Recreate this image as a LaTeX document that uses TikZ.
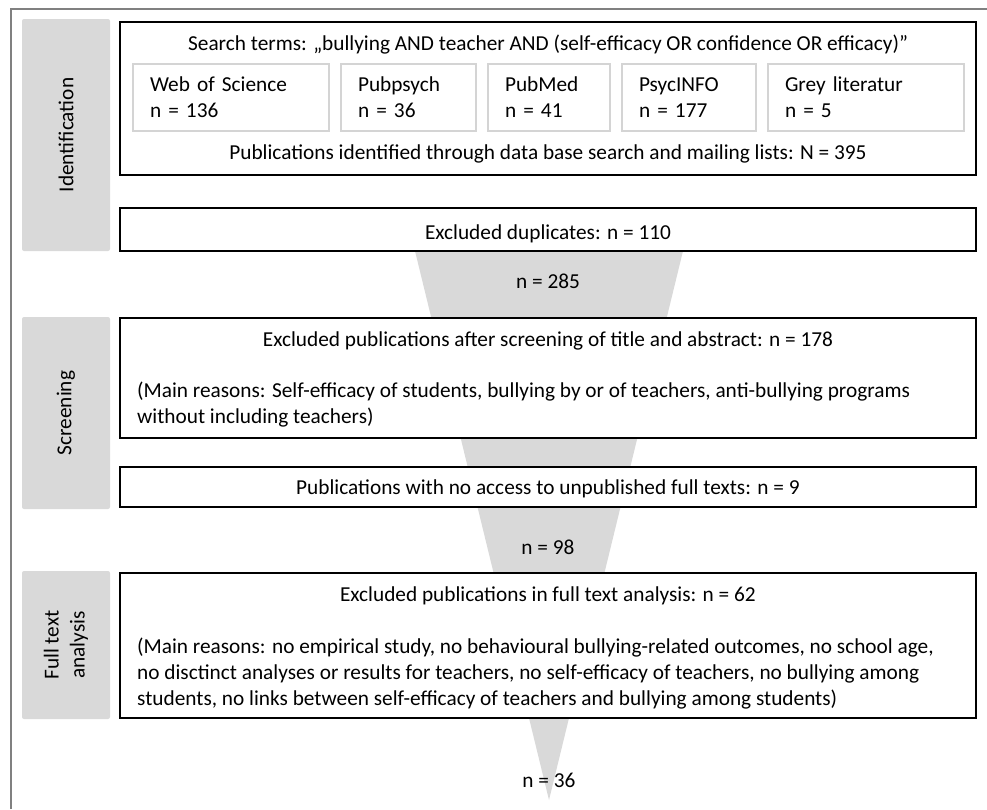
\documentclass[tikz,border=0pt]{standalone}
\usepackage{fontspec}
\setmainfont{Carlito}
\usetikzlibrary{positioning}
\definecolor{barfill}{HTML}{D9D9D9}
\definecolor{srcline}{HTML}{D4D4D4}
\definecolor{frameline}{HTML}{808080}

\begin{document}
\begin{tikzpicture}[
  x=1pt, y=-1pt,
  font=\fontsize{21.3}{26}\selectfont,
  stage/.style={rectangle, draw, line width=1.6pt, fill=white, minimum width=856pt, inner sep=0pt, outer sep=0pt},
  src/.style={rectangle, draw=srcline, line width=1.4pt, fill=white, minimum height=67pt, inner xsep=17pt, inner ysep=0pt, outer sep=0pt, align=left},
  phase/.style={rectangle, fill=barfill, rounded corners=2pt, rotate=90, minimum height=88pt, align=center},
  txt/.style={inner sep=0pt},
  node distance=12pt
]
\useasboundingbox (0,0) rectangle (987,809);
\draw[frameline, line width=1.5pt] (11,809) -- (11,9) -- (987,9);

% funnel behind the boxes
\fill[barfill] (415,251) -- (683,251) -- (549,800) -- cycle;

\node[phase, minimum width=232pt] (ph1) at (66,135) {Identification};
\node[phase, minimum width=192pt] (ph2) at (66,413) {Screening};
\node[phase, minimum width=148pt] (ph3) at (66,645) {Full text\\analysis};

\node[stage, minimum height=153pt] (ident) at (548,98.5) {};
\node[txt, anchor=base, yshift=-28pt] (terms) at (ident.north) {Search terms: „bullying AND teacher AND (self-efficacy OR confidence OR efficacy)”};
\node[src, text width=162pt, anchor=west] (wos) at (133,97.5) {Web of Science\\n = 136};
\node[src, text width=101pt, right=12pt of wos] (pubpsych) {Pubpsych\\n = 36};
\node[src, text width=88pt, right=12pt of pubpsych] (pubmed) {PubMed\\n = 41};
\node[src, text width=100pt, right=12pt of pubmed] (psycinfo) {PsycINFO\\n = 177};
\node[src, text width=162pt, right=12pt of psycinfo] (grey) {Grey literatur\\n = 5};
\node[txt, anchor=base, yshift=16pt] (total) at (ident.south) {Publications identified through data base search and mailing lists: N = 395};

\node[stage, minimum height=43pt, below=33pt of ident] (dup) {};
\node[txt, anchor=base, yshift=-31pt] (duptext) at (dup.north) {Excluded duplicates: n = 110};
\node[txt, anchor=base] (n285) at (548,288) {n = 285};

\node[stage, minimum height=120pt, below=67pt of dup] (screen) {};
\node[txt, anchor=base, yshift=-28pt] (screenhead) at (screen.north) {Excluded publications after screening of title and abstract: n = 178};
% base of a multi-line node is its last line
\node[txt, anchor=base west, align=left, xshift=17pt, yshift=-105pt] (screenwhy) at (screen.north west) {(Main reasons: Self-efficacy of students, bullying by or of teachers, anti-bullying programs\\without including teachers)};

\node[stage, minimum height=40pt, below=29pt of screen] (noaccess) {};
\node[txt, anchor=base, yshift=-27pt] (noaccesstext) at (noaccess.north) {Publications with no access to unpublished full texts: n = 9};
\node[txt, anchor=base] (n98) at (548,554) {n = 98};

\node[stage, minimum height=145pt, below=66pt of noaccess] (full) {};
\node[txt, anchor=base, yshift=-28pt] (fullhead) at (full.north) {Excluded publications in full text analysis: n = 62};
\node[txt, anchor=base west, align=left, xshift=17pt, yshift=-132pt] (fullwhy) at (full.north west) {(Main reasons: no empirical study, no behavioural bullying-related outcomes, no school age,\\no disctinct analyses or results for teachers, no self-efficacy of teachers, no bullying among\\students, no links between self-efficacy of teachers and bullying among students)};
\node[txt, anchor=base] (n36) at (549,787) {n = 36};
\end{tikzpicture}
\end{document}
